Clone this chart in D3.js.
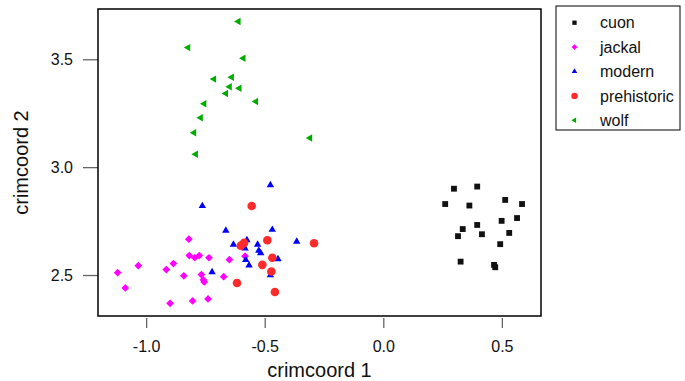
<!DOCTYPE html>
<html>
<head>
<meta charset="utf-8">
<script src="https://cdn.jsdelivr.net/npm/d3@7"></script>
<style>
  body { margin: 0; background: #fff; }
  text { font-family: "Liberation Sans", Arial, sans-serif; fill: #111; }
</style>
</head>
<body>
<div id="chart"></div>
<script>
'use strict'

// groups, in legend order
const groups = ['cuon', 'jackal', 'modern', 'prehistoric', 'wolf']

const cuonX = [0.298, 0.396, 0.261, 0.363, 0.514, 0.585, 0.564, 0.499, 0.396, 0.335, 0.416, 0.531, 0.315, 0.493, 0.326, 0.467, 0.472]
const cuonY = [2.900, 2.910, 2.829, 2.822, 2.848, 2.829, 2.764, 2.751, 2.732, 2.713, 2.689, 2.695, 2.680, 2.643, 2.562, 2.547, 2.536]

const jackalX = [-0.820, -0.818, -0.795, -0.776, -0.735, -0.649, -0.583, -0.885, -1.033, -0.915, -1.120, -0.841, -0.767, -0.673, -0.759, -0.755, -1.088, -0.739, -0.804, -0.899]
const jackalY = [2.666, 2.590, 2.580, 2.590, 2.580, 2.571, 2.587, 2.553, 2.543, 2.525, 2.511, 2.496, 2.502, 2.492, 2.478, 2.468, 2.440, 2.389, 2.380, 2.369]

const modernX = [-0.476, -0.763, -0.664, -0.468, -0.575, -0.632, -0.530, -0.365, -0.583, -0.525, -0.517, -0.444, -0.580, -0.566, -0.722, -0.476]
const modernY = [2.917, 2.820, 2.706, 2.710, 2.662, 2.641, 2.641, 2.655, 2.624, 2.613, 2.602, 2.574, 2.570, 2.545, 2.514, 2.499]

const prehistoricX = [-0.555, -0.292, -0.489, -0.587, -0.601, -0.468, -0.510, -0.472, -0.617, -0.457]
const prehistoricY = [2.820, 2.647, 2.661, 2.649, 2.636, 2.580, 2.547, 2.516, 2.463, 2.421]

const wolfX = [-0.611, -0.823, -0.590, -0.714, -0.639, -0.648, -0.607, -0.664, -0.537, -0.755, -0.770, -0.798, -0.309, -0.791]
const wolfY = [3.675, 3.554, 3.505, 3.408, 3.417, 3.373, 3.366, 3.341, 3.304, 3.294, 3.229, 3.159, 3.135, 3.060]

const xTicks = [-1.0, -0.5, 0.0, 0.5]
const yTicks = [2.5, 3.0, 3.5]

const seriesX = { cuon: cuonX, jackal: jackalX, modern: modernX, prehistoric: prehistoricX, wolf: wolfX }
const seriesY = { cuon: cuonY, jackal: jackalY, modern: modernY, prehistoric: prehistoricY, wolf: wolfY }

////////////////////////////////////
//////////// svg setup /////////////
////////////////////////////////////

const svgWidth = 685, svgHeight = 381
const plot = { left: 98, right: 541, top: 9, bottom: 316 }

const svg = d3.select('#chart')
    .append('svg')
    .attr('width', svgWidth)
    .attr('height', svgHeight)

////////////////////////////////////
//////////// scales ////////////////
////////////////////////////////////

const x = d3.scaleLinear()
    .domain([-1.203, 0.665])
    .range([plot.left, plot.right])

const y = d3.scaleLinear()
    .domain([2.310, 3.733])
    .range([plot.bottom, plot.top])

const colorScale = d3.scaleOrdinal()
    .domain(groups)
    .range(['#111111', '#ff00ff', '#0000ff', '#ff2a2a', '#00aa00'])

// marker shape per group: [symbol, area, rotation]
const shapes = {
    cuon: [d3.symbolSquare, 34, 0],
    jackal: [d3.symbolSquare, 30, 45],
    modern: [d3.symbolTriangle, 24, 0],
    prehistoric: [d3.symbolCircle, 58, 0],
    wolf: [d3.symbolTriangle, 24, -90]
}
const legendScale = 0.55

function marker(g, name, k) {
    const s = shapes[name]
    return g.append('path')
        .attr('d', d3.symbol().type(s[0]).size(s[1] * k)())
        .attr('fill', colorScale(name))
}

////////////////////////////////////
//////////// axes //////////////////
////////////////////////////////////

const xAxis = svg.append('g')
    .attr('transform', `translate(0,${plot.bottom + 2})`)
    .call(d3.axisBottom(x).tickValues(xTicks).tickFormat(d3.format('.1f')).tickSize(10).tickSizeOuter(0))
xAxis.select('.domain').remove()
xAxis.selectAll('line').attr('stroke', '#666').attr('stroke-width', 1.3)
xAxis.selectAll('text')
    .attr('y', 23)
    .attr('font-size', 16)
    .attr('font-family', '"Liberation Sans", Arial, sans-serif')
    .attr('fill', '#111')
    .text(d => d3.format('.1f')(d).replace('−', '-'))

const yAxis = svg.append('g')
    .attr('transform', `translate(${plot.left},0)`)
    .call(d3.axisLeft(y).tickValues(yTicks).tickFormat(d3.format('.1f')).tickSize(15).tickSizeOuter(0))
yAxis.select('.domain').remove()
yAxis.selectAll('line').attr('stroke', '#666').attr('stroke-width', 1.3)
yAxis.selectAll('text')
    .attr('x', -25)
    .attr('font-size', 16)
    .attr('font-family', '"Liberation Sans", Arial, sans-serif')
    .attr('fill', '#111')

// frame
svg.append('rect')
    .attr('x', plot.left)
    .attr('y', plot.top)
    .attr('width', plot.right - plot.left)
    .attr('height', plot.bottom - plot.top)
    .attr('fill', 'none')
    .attr('stroke', '#000')
    .attr('stroke-width', 1.5)

// axis titles
svg.append('text')
    .attr('x', (plot.left + plot.right) / 2)
    .attr('y', 377)
    .attr('text-anchor', 'middle')
    .attr('font-size', 20)
    .text('crimcoord 1')

svg.append('text')
    .attr('transform', `translate(28,${(plot.top + plot.bottom) / 2}) rotate(-90)`)
    .attr('text-anchor', 'middle')
    .attr('font-size', 20)
    .text('crimcoord 2')

////////////////////////////////////
//////////// points ////////////////
////////////////////////////////////

groups.forEach(name => {
    const gx = seriesX[name], gy = seriesY[name]
    gx.forEach((v, i) => {
        marker(svg, name, 1)
            .attr('transform', `translate(${x(v)},${y(gy[i])}) rotate(${shapes[name][2]})`)
    })
})

////////////////////////////////////
//////////// legend ////////////////
////////////////////////////////////

const legend = svg.append('g').attr('transform', 'translate(556,6)')

legend.append('rect')
    .attr('width', 124)
    .attr('height', 124)
    .attr('fill', '#fff')
    .attr('stroke', '#000')
    .attr('stroke-width', 1)

groups.forEach((name, i) => {
    const yy = 16.7 + i * 24.4
    marker(legend, name, legendScale)
        .attr('transform', `translate(18.5,${yy}) rotate(${shapes[name][2]})`)
    legend.append('text')
        .attr('x', 44)
        .attr('y', yy)
        .attr('dy', '0.35em')
        .attr('font-size', 16)
        .text(name)
})
</script>
</body>
</html>
